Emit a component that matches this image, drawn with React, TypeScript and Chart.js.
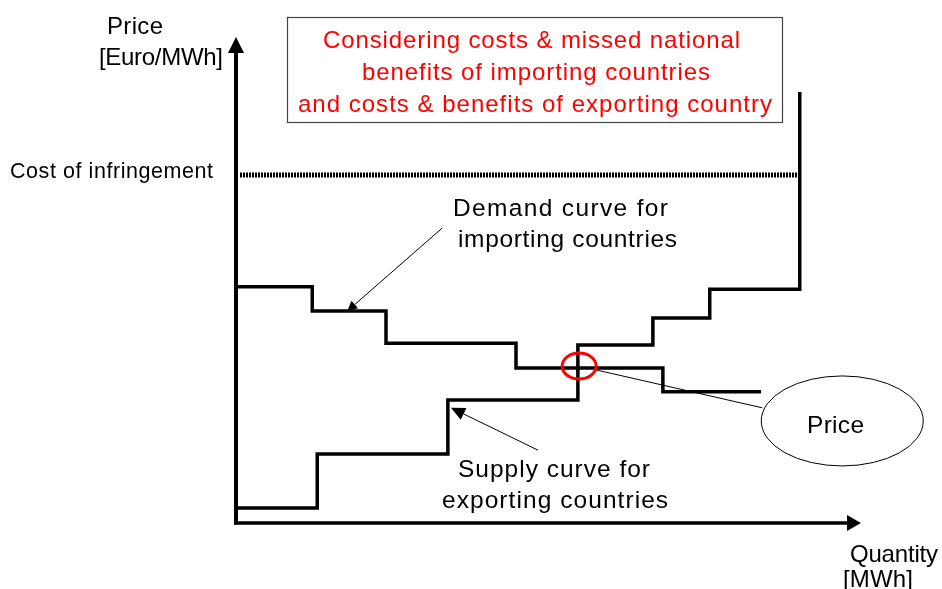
import React, { useEffect, useRef } from "react";
import { Chart, registerables } from "chart.js";

Chart.register(...registerables);

// ---- Data (Quantity in arbitrary units 0..100, Price 0..100) ----
const supplyQty = [0, 13, 33.9, 54.7, 66.7, 75.8, 90.2];
const supplyPrice = [3.1, 14.2, 25.3, 36.6, 42.2, 48.1, 88.7];

const demandQty = [0, 12.2, 24, 44.8, 68.3, 84];
const demandPrice = [48.6, 43.6, 37, 31.9, 27, 27];

const infringementQty = [0.64, 90.24];
const infringementPrice = 71.6;

const equilibrium = { q: 54.9, p: 32.3 };
const priceBubble = { q: 97, p: 21 };

const titleLines = [
  "Considering costs & missed national",
  "benefits of importing countries",
  "and costs & benefits of exporting country",
];

const FONT = '"Liberation Sans", Arial, Helvetica, sans-serif';

function drawText(
  ctx: CanvasRenderingContext2D,
  text: string,
  left: number,
  baseline: number,
  size: number,
  color: string,
  targetWidth?: number
) {
  ctx.save();
  ctx.font = `${size}px ${FONT}`;
  ctx.fillStyle = color;
  ctx.textAlign = "left";
  ctx.textBaseline = "alphabetic";
  (ctx as any).letterSpacing = "0px";
  if (targetWidth) {
    const w = ctx.measureText(text).width;
    const ls = (targetWidth - w) / Math.max(1, text.length - 1);
    (ctx as any).letterSpacing = `${ls.toFixed(2)}px`;
  }
  ctx.fillText(text, left, baseline);
  (ctx as any).letterSpacing = "0px";
  ctx.restore();
}

function arrow(
  ctx: CanvasRenderingContext2D,
  x1: number,
  y1: number,
  x2: number,
  y2: number,
  lw: number,
  headLen: number,
  headHalf: number
) {
  const ang = Math.atan2(y2 - y1, x2 - x1);
  const bx = x2 - Math.cos(ang) * headLen;
  const by = y2 - Math.sin(ang) * headLen;
  ctx.save();
  ctx.strokeStyle = "#000";
  ctx.fillStyle = "#000";
  ctx.lineWidth = lw;
  ctx.beginPath();
  ctx.moveTo(x1, y1);
  ctx.lineTo(bx, by);
  ctx.stroke();
  ctx.beginPath();
  ctx.moveTo(x2, y2);
  ctx.lineTo(bx + Math.sin(ang) * headHalf, by - Math.cos(ang) * headHalf);
  ctx.lineTo(bx - Math.sin(ang) * headHalf, by + Math.cos(ang) * headHalf);
  ctx.closePath();
  ctx.fill();
  ctx.restore();
}

const diagramPlugin = {
  id: "diagram",
  beforeDatasetsDraw(chart: any) {
    const ctx: CanvasRenderingContext2D = chart.ctx;
    const xs = chart.scales.x;
    const ys = chart.scales.y;
    const x0 = xs.getPixelForValue(0);
    const y0 = ys.getPixelForValue(0);
    const xEnd = xs.getPixelForValue(100);
    const yTop = ys.getPixelForValue(100);
    ctx.save();
    ctx.strokeStyle = "#000";
    ctx.fillStyle = "#000";
    // y axis
    ctx.lineWidth = 4;
    ctx.beginPath();
    ctx.moveTo(x0, y0 + 1.5);
    ctx.lineTo(x0, yTop + 14);
    ctx.stroke();
    ctx.beginPath();
    ctx.moveTo(x0, yTop);
    ctx.lineTo(x0 - 8, yTop + 16);
    ctx.lineTo(x0 + 8, yTop + 16);
    ctx.closePath();
    ctx.fill();
    // x axis
    ctx.lineWidth = 3.5;
    ctx.beginPath();
    ctx.moveTo(x0 - 2, y0);
    ctx.lineTo(xEnd - 12, y0);
    ctx.stroke();
    ctx.beginPath();
    ctx.moveTo(xEnd, y0);
    ctx.lineTo(xEnd - 14, y0 - 8);
    ctx.lineTo(xEnd - 14, y0 + 8);
    ctx.closePath();
    ctx.fill();
    ctx.restore();
  },
  afterDatasetsDraw(chart: any) {
    const ctx: CanvasRenderingContext2D = chart.ctx;
    const xs = chart.scales.x;
    const ys = chart.scales.y;
    const px = (q: number) => xs.getPixelForValue(q);
    const py = (p: number) => ys.getPixelForValue(p);

    // title box
    ctx.save();
    ctx.fillStyle = "#fff";
    ctx.fillRect(287, 17, 496, 106);
    ctx.strokeStyle = "#444";
    ctx.lineWidth = 1.2;
    ctx.strokeRect(287.5, 17.5, 495, 105);
    ctx.restore();
    drawText(ctx, titleLines[0], 323, 48, 24, "#ff0000", 417);
    drawText(ctx, titleLines[1], 362, 80, 24, "#ff0000", 348);
    drawText(ctx, titleLines[2], 298, 112, 24, "#ff0000", 474);

    // axis labels
    drawText(ctx, "Price", 107, 34, 24, "#000", 56);
    drawText(ctx, "[Euro/MWh]", 99, 65, 24, "#000", 124);
    drawText(ctx, "Cost of infringement", 10, 178, 21.5, "#000", 203);
    drawText(ctx, "Quantity", 850, 562, 24, "#000", 88);
    drawText(ctx, "[MWh]", 843, 587, 24, "#000", 70);

    // curve labels
    drawText(ctx, "Demand curve for", 453, 216, 24.5, "#000", 215);
    drawText(ctx, "importing countries", 458, 247, 24.5, "#000", 219);
    drawText(ctx, "Supply curve for", 458, 477, 24.5, "#000", 192);
    drawText(ctx, "exporting countries", 442, 508, 24.5, "#000", 226);

    // pointer arrows
    arrow(ctx, px(33.0), py(60.7), px(17.8), py(43.6), 1, 10, 5);
    arrow(ctx, px(48.3), py(15.0), px(34.4), py(23.7), 1, 14, 6.5);

    // connector from equilibrium to price bubble
    ctx.save();
    ctx.strokeStyle = "#000";
    ctx.lineWidth = 1;
    ctx.beginPath();
    ctx.moveTo(px(57.6), py(31.5));
    ctx.lineTo(px(84.2), py(23.7));
    ctx.stroke();

    // red equilibrium ellipse
    ctx.strokeStyle = "#ff0000";
    ctx.lineWidth = 3;
    ctx.beginPath();
    ctx.ellipse(px(equilibrium.q), py(equilibrium.p), 17, 13, 0, 0, Math.PI * 2);
    ctx.stroke();

    // price bubble
    ctx.fillStyle = "#fff";
    ctx.strokeStyle = "#000";
    ctx.lineWidth = 1;
    ctx.beginPath();
    ctx.ellipse(px(priceBubble.q), py(priceBubble.p), 81, 45, 0, 0, Math.PI * 2);
    ctx.fill();
    ctx.stroke();
    ctx.restore();
    drawText(ctx, "Price", 807, 433, 24.5, "#000", 57);
  },
};

export default function App() {
  const ref = useRef<HTMLCanvasElement | null>(null);

  useEffect(() => {
    document.body.style.margin = "0";
    const canvas = ref.current;
    if (!canvas) return;
    const chart = new Chart(canvas, {
      type: "scatter",
      data: {
        datasets: [
          {
            label: "Cost of infringement",
            data: infringementQty.map((q) => ({ x: q, y: infringementPrice })),
            showLine: true,
            borderColor: "#000",
            borderWidth: 5,
            borderDash: [2, 1],
            borderCapStyle: "butt",
            pointRadius: 0,
            clip: false as any,
          },
          {
            label: "Supply curve for exporting countries",
            data: supplyQty.map((q, i) => ({ x: q, y: supplyPrice[i] })),
            showLine: true,
            stepped: "before",
            borderColor: "#000",
            borderWidth: 3.5,
            pointRadius: 0,
            clip: false as any,
          },
          {
            label: "Demand curve for importing countries",
            data: demandQty.map((q, i) => ({ x: q, y: demandPrice[i] })),
            showLine: true,
            stepped: "before",
            borderColor: "#000",
            borderWidth: 3.5,
            pointRadius: 0,
            clip: false as any,
          },
        ],
      },
      options: {
        animation: false,
        responsive: false,
        devicePixelRatio: 1,
        layout: { padding: { left: 236, top: 37, right: 81, bottom: 66 } },
        plugins: { legend: { display: false }, tooltip: { enabled: false } },
        scales: {
          x: { type: "linear", min: 0, max: 100, display: false },
          y: { type: "linear", min: 0, max: 100, display: false },
        },
      },
      plugins: [diagramPlugin],
    });
    return () => chart.destroy();
  }, []);

  return (
    <div style={{ position: "absolute", left: 0, top: 0, width: 942, height: 589, background: "#fff" }}>
      <canvas ref={ref} width={942} height={589} style={{ display: "block" }} />
    </div>
  );
}
